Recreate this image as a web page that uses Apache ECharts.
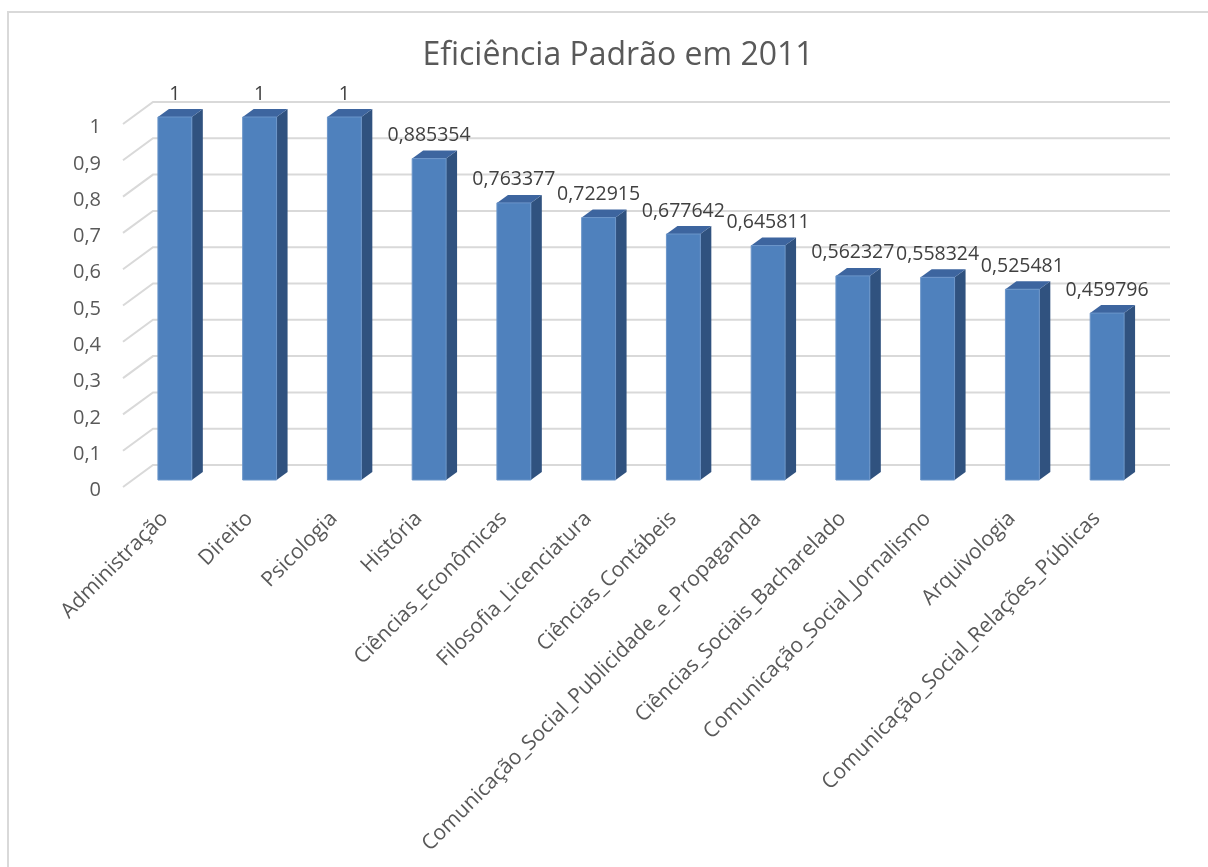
<!DOCTYPE html>
<html>
<head>
<meta charset="utf-8">
<script src="https://cdn.jsdelivr.net/npm/echarts@6/dist/echarts.min.js"></script>
<style>
  html, body { margin: 0; padding: 0; background: #ffffff; }
  #chart { width: 1208px; height: 867px; }
</style>
</head>
<body>
<div id="chart"></div>
<script>
// Cursos avaliados e a sua eficiência padrão (2011)
const categories = [
  'Administração',
  'Direito',
  'Psicologia',
  'História',
  'Ciências_Econômicas',
  'Filosofia_Licenciatura',
  'Ciências_Contábeis',
  'Comunicação_Social_Publicidade_e_Propaganda',
  'Ciências_Sociais_Bacharelado',
  'Comunicação_Social_Jornalismo',
  'Arquivologia',
  'Comunicação_Social_Relações_Públicas'
];
const efficiency = [1, 1, 1, 0.885354, 0.763377, 0.722915, 0.677642, 0.645811, 0.562327, 0.558324, 0.525481, 0.459796];
const yTicks = [0, 0.1, 0.2, 0.3, 0.4, 0.5, 0.6, 0.7, 0.8, 0.9, 1];
const titleText = 'Eficiência Padrão em 2011';

// Decimal comma, as in pt-BR
const fmt = v => String(v).replace('.', ',');

const FONT = '"Open Sans", "Noto Sans", sans-serif';
const COLORS = { front: '#4f81bd', top: '#3d659f', side: '#30527f', edge: '#6b95c9', grid: '#d9d9d9', text: '#595959', label: '#404040' };

// Oblique depth offsets (pixels) relative to the bars' front plane
const BACK = [20.5, -15];   // back wall
const FRONT = [-9.5, 7];    // front edge of the floor / side wall
const DEPTH = [11, -8];     // bar depth

function renderWall(params, api) {
  const p = api.coord([0, api.value(1)]);
  const band = api.size([1, 0])[0];
  const left = p[0] - band / 2;
  const right = left + band * categories.length;
  const y = p[1];
  return {
    type: 'polyline',
    silent: true,
    shape: { points: [[left + FRONT[0], y + FRONT[1]], [left + BACK[0], y + BACK[1]], [right + BACK[0], y + BACK[1]]] },
    style: { stroke: COLORS.grid, lineWidth: 2, fill: null }
  };
}

function renderBar(params, api) {
  const i = api.value(0), v = api.value(1);
  const top = api.coord([i, v]);
  const base = api.coord([i, 0]);
  const band = api.size([1, 0])[0];
  const w = band * 0.4;
  const x0 = top[0] - w / 2, x1 = top[0] + w / 2, yt = top[1], yb = base[1];
  const [dx, dy] = DEPTH;
  return {
    type: 'group',
    children: [
      { type: 'polygon', shape: { points: [[x1, yb], [x1 + dx, yb + dy], [x1 + dx, yt + dy], [x1, yt]] }, style: { fill: COLORS.side } },
      { type: 'polygon', shape: { points: [[x0, yt], [x1, yt], [x1 + dx, yt + dy], [x0 + dx, yt + dy]] }, style: { fill: COLORS.top } },
      { type: 'rect', shape: { x: x0, y: yt, width: w, height: yb - yt }, style: { fill: COLORS.front, stroke: COLORS.edge, lineWidth: 1 } },
      { type: 'text', x: top[0], y: yt + dy - 15, style: { text: fmt(v), fill: COLORS.label, font: '19.5px ' + FONT, align: 'center', verticalAlign: 'middle' } }
    ]
  };
}

const chart = echarts.init(document.getElementById('chart'), null, { renderer: 'canvas' });
chart.setOption({
  backgroundColor: '#ffffff',
  animation: false,
  title: {
    text: titleText,
    left: 613,
    top: 35,
    textAlign: 'center',
    textStyle: { fontFamily: FONT, fontSize: 32, fontWeight: 400, color: COLORS.text }
  },
  graphic: [{
    type: 'rect', silent: true, z: -10,
    shape: { x: 8, y: 12, width: 1400, height: 1000 },
    style: { fill: null, stroke: COLORS.grid, lineWidth: 2 }
  }],
  grid: { left: 132.5, top: 117, width: 1017, height: 363 },
  xAxis: {
    type: 'category',
    data: categories,
    axisLine: { show: false },
    axisTick: { show: false },
    splitLine: { show: false },
    axisLabel: {
      interval: 0, rotate: 45, margin: 25,
      formatter: v => '{c|' + v + '}',
      rich: { c: { fontFamily: FONT, fontSize: 21, color: COLORS.text, padding: [0, 14.5, 0, 0] } }
    }
  },
  yAxis: {
    type: 'value',
    min: 0, max: 1, interval: 0.1,
    axisLine: { show: false },
    axisTick: { show: false },
    splitLine: { show: false },
    axisLabel: {
      margin: 31.5, fontFamily: FONT, fontSize: 20, color: COLORS.text,
      verticalAlign: 'top', lineHeight: 21,
      formatter: v => fmt(Math.round(v * 10) / 10)
    }
  },
  series: [
    { type: 'custom', name: 'grade', z: 1, silent: true, renderItem: renderWall, data: yTicks.map(v => [0, v]) },
    { type: 'custom', name: 'Eficiência', z: 2, renderItem: renderBar, data: efficiency.map((v, i) => [i, v]) }
  ]
});
</script>
</body>
</html>
